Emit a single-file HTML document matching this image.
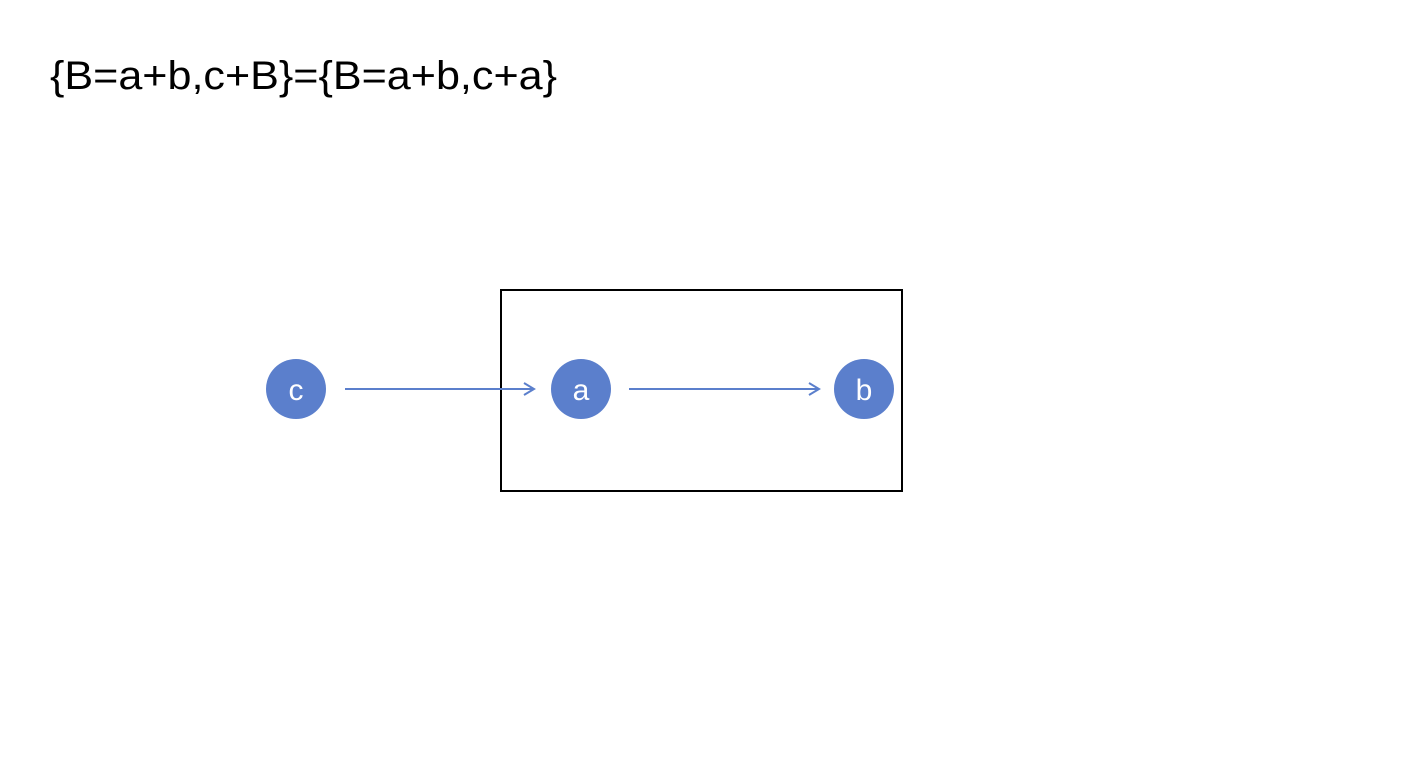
<!DOCTYPE html>
<html><head><meta charset="utf-8"><style>html,body{margin:0;padding:0;background:#fff;}</style></head>
<body>
<svg width="1407" height="759" viewBox="0 0 1407 759" xmlns="http://www.w3.org/2000/svg">
<rect width="1407" height="759" fill="#fff"/>
<text x="50" y="89" font-family="Liberation Sans, sans-serif" font-size="40" fill="#000" textLength="507" lengthAdjust="spacingAndGlyphs">{B=a+b,c+B}={B=a+b,c+a}</text>
<rect x="501" y="290" width="401" height="201" fill="none" stroke="#000" stroke-width="2"/>
<g stroke="#5b7fcc" stroke-width="2" fill="none">
<line x1="345" y1="389" x2="533" y2="389"/>
<polyline points="524,383 534,389 524,395"/>
<line x1="629" y1="389" x2="818" y2="389"/>
<polyline points="809,383 819,389 809,395"/>
</g>
<g fill="#5b7fcc">
<circle cx="296" cy="389" r="30"/>
<circle cx="581" cy="389" r="30"/>
<circle cx="864" cy="389" r="30"/>
</g>
<g fill="#fff" font-family="Liberation Sans, sans-serif" font-size="30" text-anchor="middle">
<text x="296" y="400">c</text>
<text x="581" y="400">a</text>
<text x="864" y="400">b</text>
</g>
</svg>
</body></html>
